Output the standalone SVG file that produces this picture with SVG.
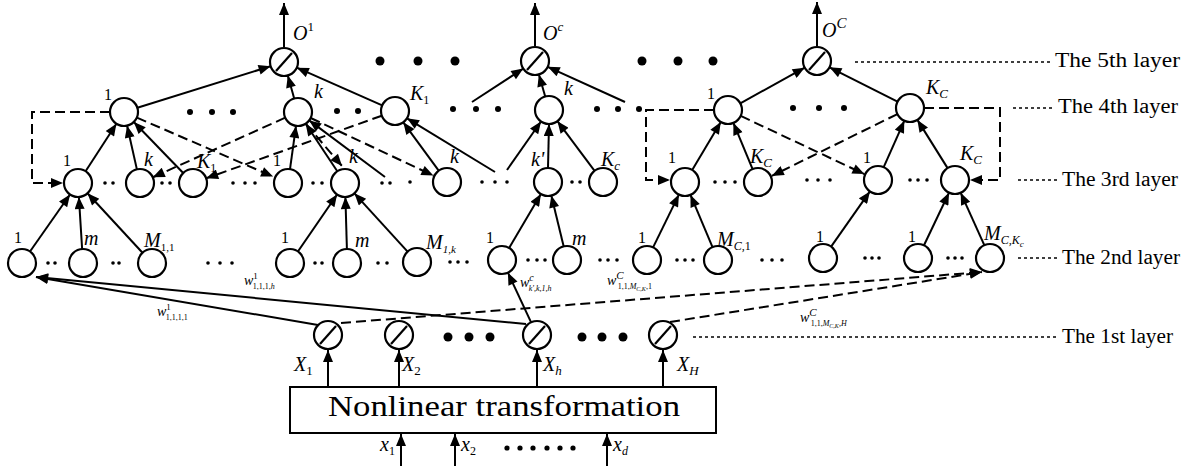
<svg xmlns="http://www.w3.org/2000/svg" width="1196" height="466" viewBox="0 0 1196 466">
<style>
.n{fill:#fff;stroke:#000;stroke-width:2.2}
.sl{stroke:#000;stroke-width:2.2;fill:none}
.s{stroke:#000;stroke-width:2;fill:none}
.d{stroke:#000;stroke-width:2;fill:none;stroke-dasharray:10 5}
.dt{stroke:#000;stroke-width:1.6;fill:none;stroke-dasharray:3 3}
.lab{font-family:"Liberation Serif","Times New Roman",serif;font-style:italic;font-size:20px;fill:#000}
.up{font-family:"Liberation Serif","Times New Roman",serif;font-size:16px;fill:#000}
.w{font-family:"Liberation Serif","Times New Roman",serif;font-style:italic;font-size:14px;fill:#000}
.ly{font-family:"Liberation Serif","Times New Roman",serif;font-size:20px;fill:#000}
.big{font-family:"Liberation Serif","Times New Roman",serif;font-size:29px;fill:#000}
</style>
<defs>
<marker id="ah" viewBox="0 0 12 10" refX="12" refY="5" markerWidth="14" markerHeight="10" markerUnits="userSpaceOnUse" orient="auto"><path d="M0,0 L12,5 L0,10 z" fill="#000"/></marker>
<g id="slash"><circle r="14" class="n"/><line x1="-8" y1="9" x2="8" y2="-9" class="sl"/></g>
</defs>

<!-- connectors -->
<g id="connectors">
 <!-- outputs -->
 <line x1="284" y1="47" x2="284" y2="3" class="s" marker-end="url(#ah)"/>
 <line x1="535" y1="46" x2="535" y2="3" class="s" marker-end="url(#ah)"/>
 <line x1="817" y1="46" x2="817" y2="2" class="s" marker-end="url(#ah)"/>
 <!-- layer 4 to layer 5 -->
 <line x1="137.4" y1="107.8" x2="270.6" y2="66.2" class="s" marker-end="url(#ah)"/>
 <line x1="294.2" y1="98.5" x2="287.8" y2="75.5" class="s" marker-end="url(#ah)"/>
 <line x1="382.2" y1="105.3" x2="296.8" y2="67.7" class="s" marker-end="url(#ah)"/>
 <line x1="472" y1="102" x2="523.3" y2="68.6" class="s" marker-end="url(#ah)"/>
 <line x1="545.2" y1="96.5" x2="538.9" y2="74.5" class="s" marker-end="url(#ah)"/>
 <line x1="625" y1="102" x2="547.7" y2="66.8" class="s" marker-end="url(#ah)"/>
 <line x1="740.3" y1="103.3" x2="804.7" y2="67.7" class="s" marker-end="url(#ah)"/>
 <line x1="897.5" y1="101.7" x2="829.5" y2="67.3" class="s" marker-end="url(#ah)"/>
 <!-- layer 3 to layer 4 -->
 <line x1="85.6" y1="171.3" x2="116.4" y2="123.7" class="s" marker-end="url(#ah)"/>
 <line x1="136.9" y1="169.4" x2="127.1" y2="125.7" class="s" marker-end="url(#ah)"/>
 <line x1="183.2" y1="173" x2="133.8" y2="122" class="s" marker-end="url(#ah)"/>
 <line x1="290" y1="169.1" x2="296" y2="125.9" class="s" marker-end="url(#ah)"/>
 <line x1="337.3" y1="171.3" x2="305.7" y2="123.7" class="s" marker-end="url(#ah)"/>
 <line x1="385" y1="177" x2="309.2" y2="120.4" class="s" marker-end="url(#ah)"/>
 <line x1="438.7" y1="170.7" x2="403.3" y2="122.3" class="s" marker-end="url(#ah)"/>
 <line x1="495" y1="172" x2="407" y2="118.3" class="s" marker-end="url(#ah)"/>
 <line x1="507" y1="170" x2="541" y2="121.5" class="s" marker-end="url(#ah)"/>
 <line x1="548" y1="168" x2="549" y2="124" class="s" marker-end="url(#ah)"/>
 <line x1="594.6" y1="170.8" x2="557.4" y2="121.2" class="s" marker-end="url(#ah)"/>
 <line x1="692.2" y1="170" x2="720.8" y2="122" class="s" marker-end="url(#ah)"/>
 <line x1="752.6" y1="169.1" x2="733.4" y2="122.9" class="s" marker-end="url(#ah)"/>
 <line x1="883.7" y1="167.2" x2="904.3" y2="120.8" class="s" marker-end="url(#ah)"/>
 <line x1="947.6" y1="168.1" x2="917.4" y2="119.9" class="s" marker-end="url(#ah)"/>
 <!-- layer 4 to layer 3 lateral (dashed) -->
 <path d="M110,112 H32 V183 H63" class="d" marker-end="url(#ah)"/>
 <line x1="136.9" y1="117.6" x2="273.1" y2="176.6" class="d" marker-end="url(#ah)"/>
 <line x1="285.2" y1="117.7" x2="152.8" y2="177.3" class="d" marker-end="url(#ah)"/>
 <line x1="310.7" y1="118" x2="433.4" y2="175.6" class="d" marker-end="url(#ah)"/>
 <line x1="381.8" y1="115.7" x2="206.2" y2="178.3" class="d" marker-end="url(#ah)"/>
 <line x1="306" y1="124" x2="342" y2="166" class="d" marker-end="url(#ah)"/>
 <path d="M714,110 H646 V180 H670" class="d" marker-end="url(#ah)"/>
 <line x1="740.7" y1="115.9" x2="864.4" y2="174.1" class="d" marker-end="url(#ah)"/>
 <line x1="897.4" y1="114.1" x2="771.8" y2="175.9" class="d" marker-end="url(#ah)"/>
 <path d="M924,108 H1000 V180 H970" class="d" marker-end="url(#ah)"/>
 <!-- layer 2 to layer 3 -->
 <line x1="30" y1="251.5" x2="70" y2="194.5" class="s" marker-end="url(#ah)"/>
 <line x1="82.1" y1="249" x2="78.9" y2="197" class="s" marker-end="url(#ah)"/>
 <line x1="142.5" y1="252.7" x2="87.5" y2="193.3" class="s" marker-end="url(#ah)"/>
 <line x1="297.9" y1="251.5" x2="337.1" y2="194.5" class="s" marker-end="url(#ah)"/>
 <line x1="346.9" y1="249" x2="345.4" y2="197" class="s" marker-end="url(#ah)"/>
 <line x1="407.6" y1="251.7" x2="354.4" y2="193.3" class="s" marker-end="url(#ah)"/>
 <line x1="509.1" y1="248" x2="540.9" y2="194" class="s" marker-end="url(#ah)"/>
 <line x1="563.7" y1="246.4" x2="551.3" y2="195.6" class="s" marker-end="url(#ah)"/>
 <line x1="653.1" y1="247.4" x2="678.9" y2="194.6" class="s" marker-end="url(#ah)"/>
 <line x1="712.5" y1="247.1" x2="690.5" y2="194.9" class="s" marker-end="url(#ah)"/>
 <line x1="831.1" y1="246.6" x2="869.9" y2="191.4" class="s" marker-end="url(#ah)"/>
 <line x1="924" y1="245.3" x2="949" y2="192.7" class="s" marker-end="url(#ah)"/>
 <line x1="984.3" y1="245.2" x2="960.7" y2="192.8" class="s" marker-end="url(#ah)"/>
 <!-- layer 1 to layer 2 -->
 <line x1="318" y1="325" x2="36" y2="277" class="s" marker-end="url(#ah)"/>
 <line x1="526" y1="324" x2="36" y2="277" class="s" marker-end="url(#ah)"/>
 <line x1="531.1" y1="322.3" x2="507.9" y2="272.7" class="s" marker-end="url(#ah)"/>
 <line x1="341" y1="323" x2="982" y2="272" class="d" marker-end="url(#ah)"/>
 <line x1="670" y1="322" x2="982" y2="272" class="d" marker-end="url(#ah)"/>
 <!-- transformation outputs to layer 1 -->
 <line x1="328" y1="387" x2="328" y2="350" class="s" marker-end="url(#ah)"/>
 <line x1="399" y1="387" x2="399" y2="350" class="s" marker-end="url(#ah)"/>
 <line x1="537" y1="387" x2="537" y2="350" class="s" marker-end="url(#ah)"/>
 <line x1="663" y1="387" x2="663" y2="350" class="s" marker-end="url(#ah)"/>
 <!-- raw inputs -->
 <line x1="401" y1="466" x2="401" y2="434" class="s" marker-end="url(#ah)"/>
 <line x1="455" y1="466" x2="455" y2="434" class="s" marker-end="url(#ah)"/>
 <line x1="607" y1="466" x2="607" y2="434" class="s" marker-end="url(#ah)"/>
 <!-- layer guide lines -->
 <line x1="855" y1="62" x2="1052" y2="62" class="dt"/>
 <line x1="1013" y1="108" x2="1055" y2="108" class="dt"/>
 <line x1="1018" y1="180" x2="1058" y2="180" class="dt"/>
 <line x1="1018" y1="258" x2="1058" y2="258" class="dt"/>
 <line x1="693" y1="337" x2="1056" y2="337" class="dt"/>
</g>

<!-- layer 5: outputs -->
<g id="layer5">
 <use href="#slash" x="284" y="62"/>
 <use href="#slash" x="535" y="61"/>
 <use href="#slash" x="817" y="61"/>
</g>
<!-- layer 4 -->
<g id="layer4">
 <circle cx="124" cy="112" r="14" class="n"/>
 <circle cx="298" cy="112" r="14" class="n"/>
 <circle cx="395" cy="111" r="14" class="n"/>
 <circle cx="549" cy="110" r="14" class="n"/>
 <circle cx="728" cy="110" r="14" class="n"/>
 <circle cx="910" cy="108" r="14" class="n"/>
</g>
<!-- layer 3 -->
<g id="layer3">
 <circle cx="78" cy="183" r="14" class="n"/>
 <circle cx="140" cy="183" r="14" class="n"/>
 <circle cx="193" cy="183" r="14" class="n"/>
 <circle cx="288" cy="183" r="14" class="n"/>
 <circle cx="345" cy="183" r="14" class="n"/>
 <circle cx="447" cy="182" r="14" class="n"/>
 <circle cx="548" cy="182" r="14" class="n"/>
 <circle cx="603" cy="182" r="14" class="n"/>
 <circle cx="685" cy="182" r="14" class="n"/>
 <circle cx="758" cy="182" r="14" class="n"/>
 <circle cx="878" cy="180" r="14" class="n"/>
 <circle cx="955" cy="180" r="14" class="n"/>
</g>
<!-- layer 2 -->
<g id="layer2">
 <circle cx="22" cy="263" r="14" class="n"/>
 <circle cx="83" cy="263" r="14" class="n"/>
 <circle cx="152" cy="263" r="14" class="n"/>
 <circle cx="290" cy="263" r="14" class="n"/>
 <circle cx="347" cy="263" r="14" class="n"/>
 <circle cx="417" cy="262" r="14" class="n"/>
 <circle cx="502" cy="260" r="14" class="n"/>
 <circle cx="567" cy="260" r="14" class="n"/>
 <circle cx="647" cy="260" r="14" class="n"/>
 <circle cx="718" cy="260" r="14" class="n"/>
 <circle cx="823" cy="258" r="14" class="n"/>
 <circle cx="918" cy="258" r="14" class="n"/>
 <circle cx="990" cy="258" r="14" class="n"/>
</g>
<!-- layer 1 -->
<g id="layer1">
 <use href="#slash" x="328" y="335"/>
 <use href="#slash" x="399" y="335"/>
 <use href="#slash" x="537" y="335"/>
 <use href="#slash" x="663" y="335"/>
</g>
<!-- nonlinear transformation block -->
<g id="transform">
 <rect x="290" y="387" width="426" height="46" fill="#fff" stroke="#000" stroke-width="2"/>
 <text x="328" y="416" class="big" textLength="352" lengthAdjust="spacingAndGlyphs">Nonlinear transformation</text>
</g>

<!-- ellipsis dots -->
<g id="dots" fill="#000">
 <circle cx="380" cy="61" r="4.5"/><circle cx="418" cy="61" r="4.5"/><circle cx="455" cy="61" r="4.5"/>
 <circle cx="642" cy="61" r="4.5"/><circle cx="678" cy="61" r="4.5"/><circle cx="713" cy="61" r="4.5"/>
 <circle cx="190" cy="112" r="3"/><circle cx="212" cy="112" r="3"/><circle cx="233" cy="112" r="3"/>
 <circle cx="337" cy="111" r="3"/><circle cx="358" cy="111" r="3"/>
 <circle cx="453" cy="109" r="3"/><circle cx="476" cy="109" r="3"/><circle cx="498" cy="109" r="3"/>
 <circle cx="597" cy="109" r="3"/><circle cx="618" cy="109" r="3"/><circle cx="639" cy="109" r="3"/>
 <circle cx="793" cy="108" r="3"/><circle cx="819" cy="108" r="3"/><circle cx="844" cy="108" r="3"/>
 <circle cx="105" cy="183" r="1.8"/><circle cx="113" cy="183" r="1.8"/>
 <circle cx="162" cy="183" r="1.8"/><circle cx="170" cy="183" r="1.8"/>
 <circle cx="233" cy="183" r="1.8"/><circle cx="245" cy="183" r="1.8"/><circle cx="255" cy="183" r="1.8"/>
 <circle cx="313" cy="183" r="1.8"/><circle cx="322" cy="183" r="1.8"/>
 <circle cx="382" cy="183" r="1.8"/><circle cx="390" cy="183" r="1.8"/><circle cx="410" cy="182" r="1.8"/>
 <circle cx="482" cy="182" r="1.8"/><circle cx="495" cy="182" r="1.8"/><circle cx="507" cy="182" r="1.8"/>
 <circle cx="572" cy="182" r="1.8"/><circle cx="580" cy="182" r="1.8"/>
 <circle cx="715" cy="182" r="1.8"/><circle cx="725" cy="182" r="1.8"/><circle cx="735" cy="182" r="1.8"/>
 <circle cx="807" cy="180" r="1.8"/><circle cx="818" cy="180" r="1.8"/><circle cx="830" cy="180" r="1.8"/>
 <circle cx="910" cy="180" r="1.8"/><circle cx="918" cy="180" r="1.8"/><circle cx="927" cy="180" r="1.8"/>
 <circle cx="48" cy="263" r="1.8"/><circle cx="55" cy="263" r="1.8"/>
 <circle cx="113" cy="263" r="1.8"/><circle cx="119" cy="263" r="1.8"/>
 <circle cx="208" cy="263" r="1.8"/><circle cx="220" cy="263" r="1.8"/><circle cx="232" cy="263" r="1.8"/>
 <circle cx="315" cy="263" r="1.8"/><circle cx="322" cy="263" r="1.8"/>
 <circle cx="378" cy="263" r="1.8"/><circle cx="387" cy="263" r="1.8"/>
 <circle cx="450" cy="262" r="1.8"/><circle cx="458" cy="262" r="1.8"/><circle cx="467" cy="262" r="1.8"/>
 <circle cx="528" cy="260" r="1.8"/><circle cx="537" cy="260" r="1.8"/><circle cx="545" cy="260" r="1.8"/>
 <circle cx="600" cy="260" r="1.8"/><circle cx="608" cy="260" r="1.8"/><circle cx="617" cy="260" r="1.8"/>
 <circle cx="677" cy="260" r="1.8"/><circle cx="685" cy="260" r="1.8"/><circle cx="693" cy="260" r="1.8"/>
 <circle cx="762" cy="260" r="1.8"/><circle cx="772" cy="260" r="1.8"/><circle cx="782" cy="260" r="1.8"/>
 <circle cx="865" cy="258" r="1.8"/><circle cx="872" cy="258" r="1.8"/><circle cx="879" cy="258" r="1.8"/>
 <circle cx="948" cy="258" r="1.8"/><circle cx="955" cy="258" r="1.8"/><circle cx="962" cy="258" r="1.8"/>
 <circle cx="448" cy="337" r="4.5"/><circle cx="469" cy="337" r="4.5"/><circle cx="490" cy="337" r="4.5"/>
 <circle cx="582" cy="337" r="4.5"/><circle cx="602" cy="337" r="4.5"/><circle cx="623" cy="337" r="4.5"/>
 <circle cx="507" cy="448" r="2.6"/><circle cx="520" cy="448" r="2.6"/><circle cx="533" cy="448" r="2.6"/>
 <circle cx="547" cy="448" r="2.6"/><circle cx="560" cy="448" r="2.6"/><circle cx="573" cy="448" r="2.6"/>
</g>

<!-- labels -->
<g id="labels">
 <text x="293" y="40" class="lab" font-size="22">O<tspan dy="-9" font-size="13" font-style="normal">1</tspan></text>
 <text x="543" y="40" class="lab" font-size="22">O<tspan dy="-9" font-size="13">c</tspan></text>
 <text x="822" y="37" class="lab" font-size="22">O<tspan dy="-9" font-size="15">C</tspan></text>

 <text x="104" y="100" class="up">1</text>
 <text x="314" y="98" class="lab">k</text>
 <text x="410" y="100" class="lab">K<tspan dy="4" font-size="12" font-style="normal">1</tspan></text>
 <text x="564" y="95" class="lab">k</text>
 <text x="707" y="99" class="up">1</text>
 <text x="926" y="94" class="lab">K<tspan dy="4" font-size="13">C</tspan></text>

 <text x="63" y="166" class="up">1</text>
 <text x="144" y="166" class="lab">k</text>
 <text x="197" y="168" class="lab">K<tspan dy="4" font-size="12" font-style="normal">1</tspan></text>
 <text x="273" y="166" class="up">1</text>
 <text x="349" y="163" class="lab">k</text>
 <text x="450" y="163" class="lab">k</text>
 <text x="531" y="166" class="lab">k'</text>
 <text x="601" y="166" class="lab">K<tspan dy="4" font-size="13">c</tspan></text>
 <text x="668" y="163" class="up">1</text>
 <text x="750" y="163" class="lab">K<tspan dy="4" font-size="13">C</tspan></text>
 <text x="863" y="163" class="up">1</text>
 <text x="960" y="160" class="lab">K<tspan dy="4" font-size="13">C</tspan></text>

 <text x="14" y="243" class="up">1</text>
 <text x="84" y="245" class="lab" font-size="18">m</text>
 <text x="144" y="247" class="lab">M<tspan dy="4" font-size="11" font-style="normal">1,1</tspan></text>
 <text x="281" y="243" class="up">1</text>
 <text x="355" y="247" class="lab" font-size="18">m</text>
 <text x="426" y="249" class="lab">M<tspan dy="4" font-size="11">1,k</tspan></text>
 <text x="486" y="243" class="up">1</text>
 <text x="572" y="245" class="lab" font-size="18">m</text>
 <text x="638" y="243" class="up">1</text>
 <text x="717" y="246" class="lab">M<tspan dy="4" font-size="12">C,</tspan><tspan font-size="12" font-style="normal">1</tspan></text>
 <text x="816" y="242" class="up">1</text>
 <text x="908" y="242" class="up">1</text>
 <text x="984" y="240" class="lab">M<tspan dy="4" font-size="12">C,K</tspan><tspan dy="3" font-size="9">c</tspan></text>

 <text x="244" y="285" class="w">w<tspan dy="-6" font-size="9" font-style="normal">1</tspan><tspan dx="-5" dy="10" font-size="8" font-style="normal">1,1,1,</tspan><tspan font-size="8">h</tspan></text>
 <text x="157" y="316" class="w">w<tspan dy="-6" font-size="9" font-style="normal">1</tspan><tspan dx="-5" dy="10" font-size="8" font-style="normal">1,1,1,1</tspan></text>
 <text x="520" y="287" class="w">w<tspan dy="-6" font-size="10">c</tspan><tspan dx="-5" dy="10" font-size="8">k',k,1,h</tspan></text>
 <text x="607" y="285" class="w">w<tspan dy="-6" font-size="11">C</tspan><tspan dx="-6" dy="10" font-size="8" font-style="normal">1,1,</tspan><tspan font-size="8">M</tspan><tspan dy="2" font-size="6">C,K</tspan><tspan dy="-2" font-size="8" font-style="normal">,1</tspan></text>
 <text x="800" y="322" class="w">w<tspan dy="-6" font-size="11">C</tspan><tspan dx="-6" dy="10" font-size="8" font-style="normal">1,1,</tspan><tspan font-size="8">M</tspan><tspan dy="2" font-size="6">C,K</tspan><tspan dy="-2" font-size="8">,H</tspan></text>

 <text x="294" y="371" class="lab" font-size="22">X<tspan dy="4" font-size="13" font-style="normal">1</tspan></text>
 <text x="402" y="371" class="lab" font-size="22">X<tspan dy="4" font-size="13" font-style="normal">2</tspan></text>
 <text x="543" y="371" class="lab" font-size="22">X<tspan dy="4" font-size="13">h</tspan></text>
 <text x="677" y="371" class="lab" font-size="22">X<tspan dy="4" font-size="13">H</tspan></text>

 <text x="380" y="451" class="lab" font-size="19">x<tspan dy="4" font-size="12" font-style="normal">1</tspan></text>
 <text x="461" y="451" class="lab" font-size="19">x<tspan dy="4" font-size="12" font-style="normal">2</tspan></text>
 <text x="613" y="451" class="lab" font-size="19">x<tspan dy="4" font-size="12">d</tspan></text>
</g>

<!-- layer names -->
<g id="layer-names">
 <text x="1055" y="67" class="ly" textLength="125" lengthAdjust="spacingAndGlyphs">The 5th layer</text>
 <text x="1058" y="113" class="ly" textLength="120" lengthAdjust="spacingAndGlyphs">The 4th layer</text>
 <text x="1062" y="186" class="ly" textLength="116" lengthAdjust="spacingAndGlyphs">The 3rd layer</text>
 <text x="1062" y="264" class="ly" textLength="118" lengthAdjust="spacingAndGlyphs">The 2nd layer</text>
 <text x="1062" y="343" class="ly" textLength="111" lengthAdjust="spacingAndGlyphs">The 1st layer</text>
</g>
</svg>
